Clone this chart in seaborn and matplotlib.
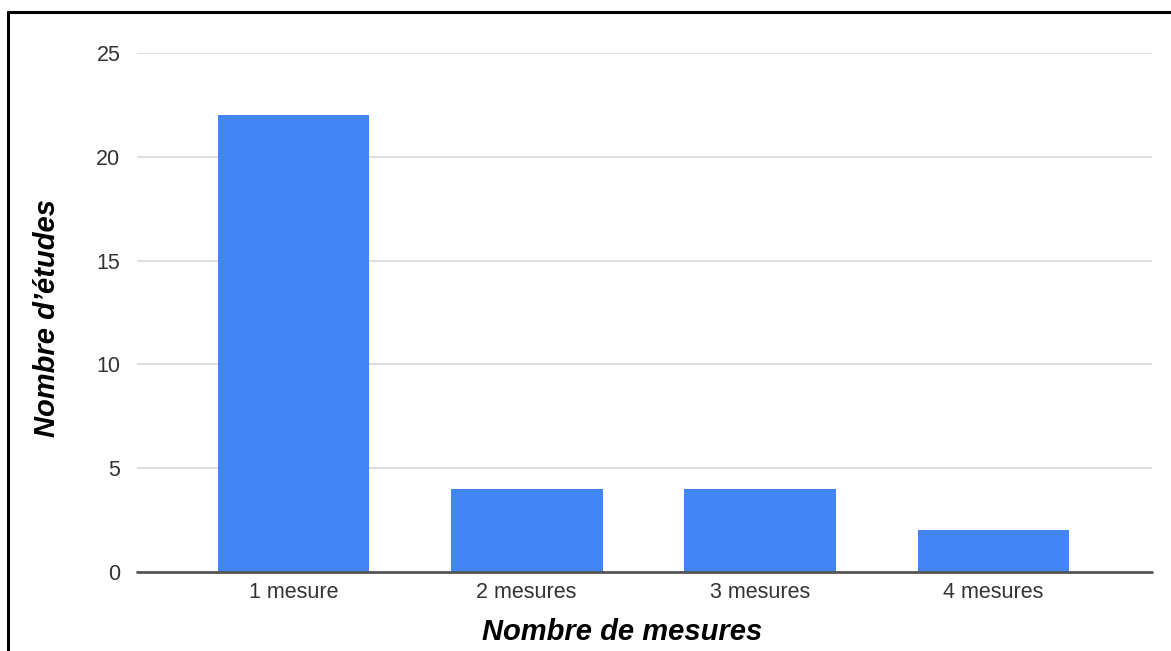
import matplotlib
matplotlib.use("Agg")
import matplotlib.pyplot as plt
from matplotlib.lines import Line2D
import seaborn as sns
import pandas as pd

categories = ["1 mesure", "2 mesures", "3 mesures", "4 mesures"]
etudes = [22, 4, 4, 2]
y_ticks = [0, 5, 10, 15, 20, 25]

sns.set_theme(style="white")
plt.rcParams["font.family"] = ["Liberation Sans", "DejaVu Sans"]

df = pd.DataFrame({"mesures": categories, "etudes": etudes})

fig = plt.figure(figsize=(11.71, 6.51), dpi=100)
ax = fig.add_axes([137 / 1171, 1 - 572 / 651, (1152 - 137) / 1171, (572 - 53) / 651])

sns.barplot(data=df, x="mesures", y="etudes", color="#4285f4", saturation=1,
            width=0.65, ax=ax, zorder=3)
for p in ax.patches:
    p.set_edgecolor("none")

ax.set_xlim(-0.67, 3.68)
ax.set_ylim(0, 25)
ax.set_yticks(y_ticks)
ax.yaxis.grid(True, color="#d9d9d9", linewidth=1.2, zorder=0)
ax.xaxis.grid(False)
for s in ax.spines.values():
    s.set_visible(False)
ax.axhline(0, color="#555555", linewidth=2, zorder=4, clip_on=False)

ax.tick_params(axis="both", length=0, labelsize=15.5, colors="#333333")
ax.tick_params(axis="y", pad=12)
ax.tick_params(axis="x", pad=7)
for t in ax.get_yticklabels():
    t.set_clip_on(False)

ax.set_xlabel("")
ax.set_ylabel("")
fig.text(622 / 1171, 1 - 632 / 651, "Nombre de mesures", ha="center", va="center",
         fontsize=21, fontweight="bold", fontstyle="italic", color="black")
fig.text(47 / 1171, 1 - 318 / 651, "Nombre d\u2019études", ha="center", va="center",
         rotation=90, fontsize=21, fontweight="bold", fontstyle="italic", color="black")

# frame lines on the left and top
fig.add_artist(Line2D([8 / 1171, 8 / 1171], [0, 1 - 12 / 651], color="black",
                      linewidth=2.2, transform=fig.transFigure))
fig.add_artist(Line2D([8 / 1171, 1], [1 - 12 / 651, 1 - 12 / 651], color="black",
                      linewidth=2.2, transform=fig.transFigure))

fig.savefig("out.png", dpi=100)
